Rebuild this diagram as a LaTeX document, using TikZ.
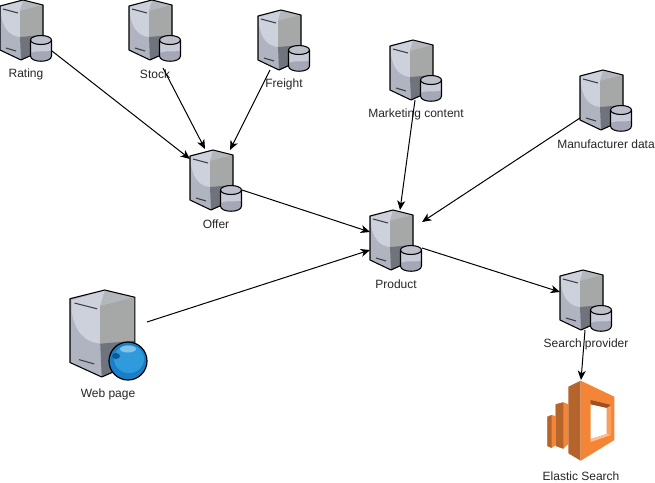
\documentclass[tikz,border=0pt]{standalone}
\usepackage{fontspec}
\setmainfont{Liberation Sans}
\usetikzlibrary{arrows.meta,calc}
\definecolor{svlight}{HTML}{CDD1DC}
\definecolor{svtop}{HTML}{B4B7BC}
\definecolor{svmid}{HTML}{B0B3C0}
\definecolor{svright}{HTML}{A6A8A8}
\definecolor{svdark}{HTML}{6E737C}
\definecolor{cyl}{HTML}{C9CCD8}
\definecolor{cyldark}{HTML}{A4A8B6}
\definecolor{awsmain}{HTML}{F58536}
\definecolor{awsdark}{HTML}{9D5025}
\definecolor{awsmid}{HTML}{B5652B}
\definecolor{awslight}{HTML}{FBBF93}
\definecolor{awsside}{HTML}{F9A060}
\definecolor{globea}{HTML}{1A7FC6}
\definecolor{globeb}{HTML}{2F9BDD}
\tikzset{
  x=0.75pt,y=-0.75pt,
  iconbox/.style={inner sep=0pt,minimum width=39pt,minimum height=45pt},
  lbl/.style={font=\fontsize{9}{11}\selectfont,text=black!85,inner sep=0pt},
  conn/.style={draw=black,line width=0.75pt,-{Stealth[length=7pt,width=6pt,inset=2pt]}},
  edgeln/.style={line width=0.8pt,draw=black,line join=round},
  srvbody/.pic={
    \fill[svmid] (0,6)--(23,0)--(43,5)--(43,50)--(21,60)--(0,50)--cycle;
    \fill[svlight] (1,7)--(23,0.5)--(20,11)--(20,37)
       .. controls (10,36) and (3,29) .. (1,14)--cycle;
    \fill[svtop] (23,0.5)--(42,5)--(20,11)--cycle;
    \fill[svright] (20,11)--(43,5)--(43,35)--(20,37)--cycle;
    \fill[svdark] (20,37)--(43,35)--(43,50)--(21,60)--cycle;
    \draw[edgeln] (0,6)--(23,0)--(43,5)--(43,50)--(21,60)--(0,50)--cycle;
    \draw[line width=0.8pt,draw=black!75] (3,9)--(18,13);
    \draw[line width=0.8pt,draw=black!75] (6,48)--(16,51);
  },
  dbcyl/.pic={
    \fill[cyl] (30.5,40) -- (30.5,56) .. controls (30.5,63) and (51.5,63) .. (51.5,56) -- (51.5,40) -- cycle;
    \fill[cyldark] (30.5,53) .. controls (37,50) and (44,52) .. (51.5,51) -- (51.5,56)
       .. controls (51.5,62.5) and (30.5,62.5) .. (30.5,56) -- cycle;
    \fill[svlight!92!black] (41,40) ellipse[x radius=10.5,y radius=4.5];
    \draw[edgeln] (41,40) ellipse[x radius=10.5,y radius=4.5];
    \draw[edgeln] (30.5,40)--(30.5,56) .. controls (30.5,63) and (51.5,63) .. (51.5,56)--(51.5,40);
  },
  server/.pic={\pic{srvbody};\pic{dbcyl};},
}
\begin{document}
\begin{tikzpicture}
\useasboundingbox (0,0) rectangle (655,482);
\fill[white] (0,0) rectangle (655,482);
% icons
\pic at (0,0) {server};
\pic at (129,0) {server};
\pic at (258,10) {server};
\pic at (390,40) {server};
\pic at (580,70) {server};
\pic at (190,150) {server};
\pic at (370,210) {server};
\pic at (560,270) {server};
\pic[xscale=1.51,yscale=1.45] at (70,290) {srvbody};
% globe
\fill[globea] (128,361) circle[radius=19];
\fill[globeb] (129,359) ellipse[x radius=15,y radius=14];
\fill[globea!70!black] (116,356) ellipse[x radius=4,y radius=3];
\fill[white,opacity=0.4] (128,349) ellipse[x radius=8,y radius=3.5];
\draw[line width=0.9pt,draw=black] (128,361) circle[radius=19];
% elastic search
\fill[awsmain] (547.3,416.7)--(551.7,415)--(555.7,416)--(555.7,445)--(551.7,448)--(547.3,446)--cycle;
\fill[awsmid] (547.3,416.7)--(551.7,415)--(551.7,448)--(547.3,446)--cycle;
\fill[awsmain] (555.7,404.3)--(563.3,402.3)--(568.3,404.3)--(568.3,444)--(563.3,448.7)--(555.7,446)--cycle;
\fill[awsmid] (555.7,404.3)--(563.3,402.3)--(563.3,448.7)--(555.7,446)--cycle;
\fill[awsmid] (568.3,386.7)--(580.7,380.7)--(580.7,460.7)--(568.3,453.3)--cycle;
\fill[awsmain] (580.7,380.7)--(614.3,396.7)--(614.3,440)--(580.7,460.7)--cycle;
\fill[awsside] (606.5,408)--(611,405)--(611,435)--(606.5,434)--cycle;
\fill[awsdark] (590.7,400)--(611,405)--(606.5,408)--(590.7,404.5)--cycle;
\fill[white] (590.7,404.5)--(606.5,408)--(606.5,434)--(590.7,439)--cycle;
\fill[awslight] (590.7,439)--(606.5,434)--(611,435)--(590.7,442)--cycle;
% named anchors for connectors
\path
  (26,30) node[iconbox] (rating) {}
  (155,30) node[iconbox] (stock) {}
  (284,40) node[iconbox] (freight) {}
  (416,70) node[iconbox] (marketing) {}
  (606,100) node[iconbox] (manuf) {}
  (216,180) node[iconbox] (offer) {}
  (396,240) node[iconbox] (product) {}
  (586,300) node[iconbox] (search) {}
  (108,335) node[inner sep=0pt,minimum width=58pt,minimum height=68pt] (web) {}
  (581,420) node[inner sep=0pt,minimum width=51pt,minimum height=60pt] (elastic) {};
% labels
\node[lbl] (lrating) at (26,74.5) {Rating};
\node[lbl] (lstock) at (155,74.5) {Stock};
\node[lbl] (lfreight) at (284,84.5) {Freight};
\node[lbl] (lmarketing) at (416,114.5) {Marketing content};
\node[lbl] (lmanuf) at (606,144.5) {Manufacturer data};
\node[lbl] (loffer) at (216,224.5) {Offer};
\node[lbl] (lproduct) at (396,284.5) {Product};
\node[lbl] (lsearch) at (586,344.5) {Search provider};
\node[lbl] (lweb) at (108,394.5) {Web page};
\node[lbl] (lelastic) at (581,476) {Elastic Search};
% connectors
\draw[conn] ([shift={(26,21)}]rating.center) -- ([shift={(-26,-21)}]offer.center);
\draw[conn] ([shift={(8,38)}]stock.center) -- ([shift={(-11,-31)}]offer.center);
\draw[conn] ([shift={(-14,30)}]freight.center) -- ([shift={(14,-30)}]offer.center);
\draw[conn] ([shift={(26,10)}]offer.center) -- ([shift={(-26,-8)}]product.center);
\draw[conn] ([shift={(-1,30)}]marketing.center) -- ([shift={(4,-30)}]product.center);
\draw[conn] ([shift={(-26,18)}]manuf.center) -- ([shift={(26,-18)}]product.center);
\draw[conn] ([shift={(39,-13)}]web.center) -- ([shift={(-26,10)}]product.center);
\draw[conn] ([shift={(26,8)}]product.center) -- ([shift={(-26,-8)}]search.center);
\draw[conn] ([shift={(-1,30)}]search.center) -- ([shift={(0,-40)}]elastic.center);
\end{tikzpicture}
\end{document}
